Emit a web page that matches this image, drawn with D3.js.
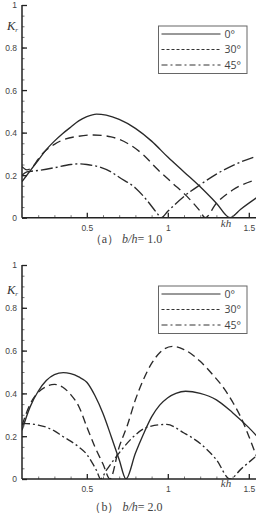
<!DOCTYPE html>
<html><head><meta charset="utf-8">
<script src="https://cdn.jsdelivr.net/npm/d3@7"></script>
<style>body{margin:0;background:#fff}svg{display:block}</style>
</head><body>
<script>
// ---------- data ----------
const legendLabels = ["0°", "30°", "45°"];
const yTicks = [0, 0.2, 0.4, 0.6, 0.8, 1];
const yTickLabels = ["0", "0.2", "0.4", "0.6", "0.8", "1"];
const xTicks = [0.5, 1, 1.5];
const xTickLabels = ["0.5", "1", "1.5"];
const captions = ["b/h= 1.0", "b/h= 2.0"];
const captionTags = ["(a)", "(b)"];

// panel (a) b/h = 1.0
const a0 = [[0.1,0.17],[0.15,0.22],[0.2,0.27],[0.25,0.32],[0.3,0.36],[0.35,0.395],[0.4,0.425],[0.45,0.455],[0.5,0.475],[0.56,0.487],[0.62,0.482],[0.7,0.462],[0.8,0.42],[0.9,0.36],[1.0,0.285],[1.1,0.215],[1.2,0.145],[1.3,0.068],[1.384,0],[1.45,0.04],[1.55,0.095]];
const a30 = [[0.1,0.24],[0.13,0.225],[0.16,0.235],[0.2,0.275],[0.232,0.305],[0.3,0.345],[0.35,0.365],[0.45,0.383],[0.54,0.389],[0.65,0.38],[0.75,0.35],[0.85,0.295],[0.93,0.232],[1.03,0.162],[1.12,0.099],[1.2,0.03],[1.23,0],[1.3,0.068],[1.4,0.13],[1.55,0.18]];
const a45 = [[0.1,0.2],[0.13,0.215],[0.2,0.222],[0.3,0.235],[0.4,0.25],[0.45,0.253],[0.5,0.25],[0.58,0.238],[0.65,0.215],[0.7,0.19],[0.8,0.14],[0.87,0.083],[0.93,0.025],[0.96,0],[1.0,0.03],[1.1,0.1],[1.2,0.155],[1.3,0.205],[1.4,0.245],[1.55,0.29]];

// panel (b) b/h = 2.0
const b0 = [[0.1,0.228],[0.15,0.337],[0.2,0.41],[0.25,0.46],[0.3,0.488],[0.355,0.497],[0.4,0.492],[0.45,0.477],[0.5,0.452],[0.55,0.39],[0.6,0.306],[0.65,0.2],[0.7,0.09],[0.742,0],[0.8,0.12],[0.85,0.21],[0.9,0.29],[0.95,0.345],[1.0,0.38],[1.05,0.4],[1.11,0.41],[1.2,0.4],[1.3,0.37],[1.4,0.31],[1.5,0.24],[1.55,0.2]];
const b30 = [[0.1,0.25],[0.15,0.35],[0.2,0.405],[0.25,0.432],[0.3,0.442],[0.35,0.43],[0.4,0.395],[0.45,0.34],[0.5,0.244],[0.55,0.15],[0.6,0.07],[0.643,0],[0.7,0.15],[0.75,0.25],[0.8,0.37],[0.85,0.465],[0.9,0.54],[0.95,0.59],[1.03,0.62],[1.1,0.605],[1.2,0.55],[1.28,0.485],[1.35,0.42],[1.4,0.36],[1.45,0.29],[1.5,0.2],[1.55,0.1]];
const b45 = [[0.1,0.26],[0.15,0.258],[0.2,0.252],[0.25,0.242],[0.3,0.225],[0.35,0.2],[0.4,0.177],[0.45,0.15],[0.5,0.115],[0.53,0.08],[0.56,0.04],[0.585,0],[0.62,0.04],[0.705,0.127],[0.787,0.197],[0.88,0.244],[0.993,0.255],[1.1,0.215],[1.2,0.166],[1.3,0.09],[1.384,0],[1.45,0.045],[1.55,0.11]];

const panels = [
  {series:[a0,a30,a45], top:5, bottom:217.7, capY:243, tag:captionTags[0], cap:captions[0], legY:26, kY:30, khY:227,
   dashes:[null, "9,5", "12,3,2,3"]},
  {series:[b0,b30,b45], top:265, bottom:479, capY:511, tag:captionTags[1], cap:captions[1], legY:286, kY:294, khY:487,
   dashes:[null, "8,4.5", "8,3,2,3"]}
];
const legDashes = [null, "3,2", "6,3,2,3"];

const W = 256, H = 515;
const svg = d3.select("body").append("svg").attr("width", W).attr("height", H);

panels.forEach(p => {
  const x = d3.scaleLinear().domain([0.1, 1.55]).range([22, 256.9]);
  const y = d3.scaleLinear().domain([0, 1]).range([p.bottom, p.top]);
  const g = svg.append("g");
  const clipId = "c" + p.top;
  svg.append("clipPath").attr("id", clipId).append("rect")
    .attr("x", 22).attr("y", p.top - 2).attr("width", W - 22).attr("height", p.bottom - p.top + 2);

  // curves
  const line = d3.line().x(d => x(d[0])).y(d => y(d[1])).curve(d3.curveMonotoneX);
  p.series.forEach((s, i) => {
    g.append("path").datum(s).attr("d", line)
      .attr("clip-path", `url(#${clipId})`)
      .attr("fill", "none").attr("stroke", "#2a2a2a").attr("stroke-width", 1.35)
      .attr("stroke-dasharray", p.dashes[i]);
  });

  // y axis
  const yMinor = d3.range(0, 1.0001, 0.05);
  g.append("g").attr("transform", `translate(22,0)`)
    .call(d3.axisRight(y).tickValues(yMinor).tickSize(2.5).tickFormat(""))
    .call(a => a.select(".domain").remove())
    .selectAll("line").attr("stroke", "#777");
  const ya = g.append("g").attr("transform", `translate(22,0)`)
    .call(d3.axisRight(y).tickValues(yTicks).tickSize(5).tickFormat((d, i) => yTickLabels[i]));
  ya.select(".domain").remove();
  ya.selectAll("line").attr("stroke", "#222").attr("stroke-width", 1.3);
  ya.selectAll("text").attr("x", -5).attr("text-anchor", "end").attr("dy", "0.35em")
    .attr("font-family", "Arial, Liberation Sans, sans-serif").attr("font-size", 8.5).attr("fill", "#444");

  // x axis
  const xMinor = d3.range(0.2, 1.56, 0.1).filter(v => Math.abs(v*2 - Math.round(v*2)) > 0.01);
  g.append("g").attr("transform", `translate(0,${p.bottom})`)
    .call(d3.axisTop(x).tickValues(xMinor).tickSize(2.5).tickFormat(""))
    .call(a => a.select(".domain").remove())
    .selectAll("line").attr("stroke", "#777");
  const xa = g.append("g").attr("transform", `translate(0,${p.bottom})`)
    .call(d3.axisTop(x).tickValues(xTicks).tickSize(5).tickFormat((d, i) => xTickLabels[i]));
  xa.select(".domain").remove();
  xa.selectAll("line").attr("stroke", "#222").attr("stroke-width", 1.3);
  xa.selectAll("text").attr("y", 10).attr("dy", "0.35em")
    .attr("font-family", "Arial, Liberation Sans, sans-serif").attr("font-size", 8.5).attr("fill", "#444");

  // axis lines
  g.append("line").attr("x1", 22).attr("x2", 22).attr("y1", p.top).attr("y2", p.bottom)
    .attr("stroke", "#222").attr("stroke-width", 1.5);
  g.append("line").attr("x1", 22).attr("x2", W).attr("y1", p.bottom).attr("y2", p.bottom)
    .attr("stroke", "#222").attr("stroke-width", 1.5);

  // axis titles
  const kt = g.append("text").attr("x", 7).attr("y", p.kY)
    .attr("font-family", "Liberation Serif, Times New Roman, serif").attr("font-style", "italic")
    .attr("font-size", 12.5).attr("fill", "#333");
  kt.append("tspan").text("K");
  kt.append("tspan").text("r").attr("font-size", 7).attr("dy", 2);
  g.append("text").attr("x", 226).attr("y", p.khY).attr("text-anchor", "middle")
    .attr("font-family", "Liberation Serif, Times New Roman, serif").attr("font-style", "italic")
    .attr("font-size", 11).attr("fill", "#444").text("kh");

  // legend
  const lg = g.append("g").attr("transform", `translate(158.5,${p.legY})`);
  lg.append("rect").attr("width", 88.5).attr("height", 47.5)
    .attr("fill", "#fff").attr("stroke", "#666").attr("stroke-width", 1);
  legendLabels.forEach((lab, i) => {
    const yy = 8 + i * 15.5;
    lg.append("line").attr("x1", 3).attr("x2", 62).attr("y1", yy).attr("y2", yy)
      .attr("stroke", "#333").attr("stroke-width", 1).attr("stroke-dasharray", legDashes[i]);
    lg.append("text").attr("x", 66).attr("y", yy).attr("dy", "0.38em")
      .attr("font-family", "Open Sans, Noto Sans, sans-serif").attr("font-size", 10.5)
      .attr("fill", "#444").text(lab);
  });

  // caption
  const ct = g.append("text").attr("x", 126).attr("y", p.capY).attr("text-anchor", "middle")
    .attr("font-family", "Liberation Serif, Times New Roman, serif").attr("font-size", 12).attr("fill", "#444");
  ct.append("tspan").text(p.tag.replace("(", "（").replace(")", "）"));
  ct.append("tspan").text(" ");
  const parts = p.cap.split("= ");
  ct.append("tspan").attr("font-style", "italic").text(parts[0]);
  ct.append("tspan").text("= " + parts[1]);
});
</script>
</body></html>
